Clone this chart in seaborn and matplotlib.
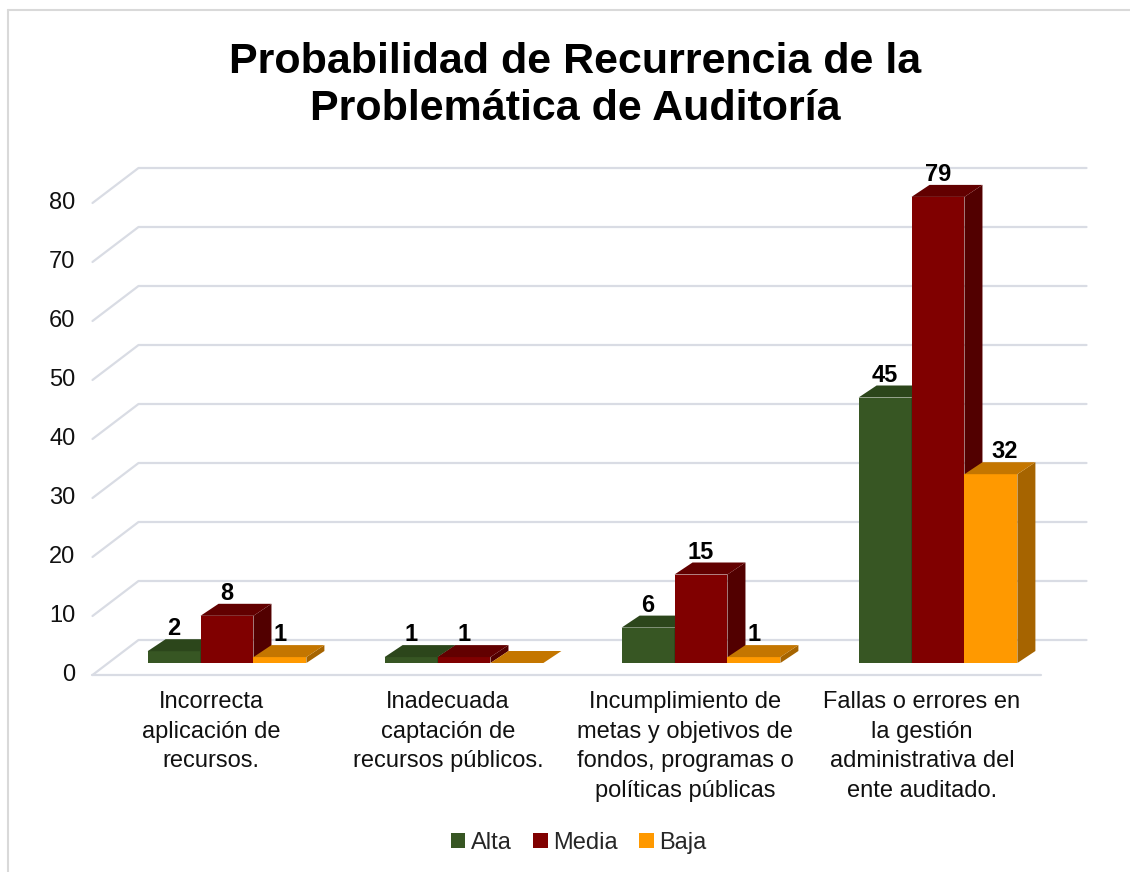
import pandas as pd
import matplotlib
matplotlib.use("Agg")
import matplotlib.pyplot as plt
from matplotlib.patches import Polygon
from matplotlib.lines import Line2D
from matplotlib.transforms import offset_copy
import seaborn as sns

categorias = ["Incorrecta\naplicación de\nrecursos.",
              "Inadecuada\ncaptación de\nrecursos públicos.",
              "Incumplimiento de\nmetas y objetivos de\nfondos, programas o\npolíticas públicas",
              "Fallas o errores en\nla gestión\nadministrativa del\nente auditado."]
niveles = ["Alta", "Media", "Baja"]
alta = [2, 1, 6, 45]
media = [8, 1, 15, 79]
baja = [1, 0, 1, 32]
y_ticks = [0, 10, 20, 30, 40, 50, 60, 70, 80]

colores = {"Alta": "#375623", "Media": "#800000", "Baja": "#ff9900"}
tapas = {"Alta": "#2c461b", "Media": "#620000", "Baja": "#c47600"}
lados = {"Alta": "#243a16", "Media": "#520000", "Baja": "#a66400"}

df = pd.DataFrame({
    "Categoria": categorias * 3,
    "Nivel": ["Alta"] * 4 + ["Media"] * 4 + ["Baja"] * 4,
    "Valor": alta + media + baja,
})

sns.set_theme(style="white")
plt.rcParams["font.family"] = ["Liberation Sans", "DejaVu Sans"]

fig = plt.figure(figsize=(11.3, 8.72), dpi=100)
W, H = 1130, 872
ax = fig.add_axes([108.5 / W, (H - 663) / H, 948 / W, 472 / H])

sns.barplot(data=df, x="Categoria", y="Valor", hue="Nivel", hue_order=niveles,
            palette=colores, width=0.67, gap=0, saturation=1, linewidth=0, ax=ax)
ax.set_xlim(-0.5, 3.5)
ax.set_ylim(0, 80)
ax.axis("off")

FRONT = (-16, -12)
BACK = (30, 23)
DEPTH = (18, 12)


def desplazar(x, y, ox, oy):
    px, py = ax.transData.transform((x, y))
    return ax.transData.inverted().transform((px + ox, py + oy))


# paredes y cuadricula
gris = "#d9dce4"
for v in y_ticks:
    pts = [desplazar(-0.5, v, *FRONT), desplazar(-0.5, v, *BACK), desplazar(3.5, v, *BACK)]
    ax.add_line(Line2D([p[0] for p in pts], [p[1] for p in pts], color=gris, lw=1.6,
                       zorder=0.5, clip_on=False))
p1, p2 = desplazar(-0.5, 0, *FRONT), desplazar(3.5, 0, *FRONT)
ax.add_line(Line2D([p1[0], p2[0]], [p1[1], p2[1]], color=gris, lw=1.6, zorder=0.5, clip_on=False))

texto = "#111111"
t_tick = offset_copy(ax.transData, fig, x=FRONT[0] - 17, y=FRONT[1], units="dots")
for v in y_ticks:
    ax.text(-0.5, v, str(v), transform=t_tick, ha="right", va="center", fontsize=17,
            color=texto)

t_cat = offset_copy(ax.transData, fig, x=FRONT[0], y=FRONT[1] - 16, units="dots")
for i, c in enumerate(categorias):
    ax.text(i, 0, c, transform=t_cat, ha="center", va="top", fontsize=17,
            linespacing=1.45, color=texto)

# caras 3D de las barras
barras = []
for nivel, cont in zip(niveles, ax.containers):
    for b in cont:
        barras.append((b.get_x(), nivel, b))
barras.sort(key=lambda t: t[0])

t_val = offset_copy(ax.transData, fig, x=0, y=16, units="dots")
t_val_der = offset_copy(ax.transData, fig, x=14, y=16, units="dots")
for k, (_, nivel, b) in enumerate(barras):
    x0, w, h = b.get_x(), b.get_width(), b.get_height()
    z = 2 + k * 0.01
    b.set_zorder(z)
    tapa = [(x0, h), (x0 + w, h), desplazar(x0 + w, h, *DEPTH), desplazar(x0, h, *DEPTH)]
    lado = [(x0 + w, 0), (x0 + w, h), desplazar(x0 + w, h, *DEPTH), desplazar(x0 + w, 0, *DEPTH)]
    ax.add_patch(Polygon(lado, closed=True, facecolor=lados[nivel], edgecolor="none",
                         zorder=z + 0.004, clip_on=False))
    ax.add_patch(Polygon(tapa, closed=True, facecolor=tapas[nivel], edgecolor="none",
                         zorder=z + 0.005, clip_on=False))
    b.set_clip_on(False)
    if h > 0:
        etiqueta = str(int(h))
        # si la barra vecina es mas alta, la etiqueta se corre a la derecha
        vecina = barras[k - 1][2] if k > 0 and nivel != "Alta" else None
        tr = t_val
        if vecina is not None and vecina.get_height() > h and len(etiqueta) > 1:
            tr = t_val_der
        ax.text(x0 + w / 2, h, etiqueta, transform=tr, ha="center", va="baseline",
                fontsize=17, fontweight="bold", color="black", zorder=5)

fig.text(0.509, 0.902, "Probabilidad de Recurrencia de la\nProblemática de Auditoría",
         ha="center", va="center", fontsize=31, fontweight="bold", color="black",
         linespacing=1.25)

sns.move_legend(ax, "center", bbox_to_anchor=(579 / W, (H - 843) / H),
                bbox_transform=fig.transFigure, ncol=3, frameon=False, title=None,
                fontsize=17, handlelength=0.6, handleheight=0.6, handletextpad=0.25,
                columnspacing=0.9)

# borde del grafico
fig.add_artist(Line2D([8 / W, 8 / W], [0, (H - 10) / H], color="#d9d9d9", lw=1.5))
fig.add_artist(Line2D([8 / W, 1], [(H - 10) / H, (H - 10) / H], color="#d9d9d9", lw=1.5))

fig.savefig("out.png", dpi=100)
